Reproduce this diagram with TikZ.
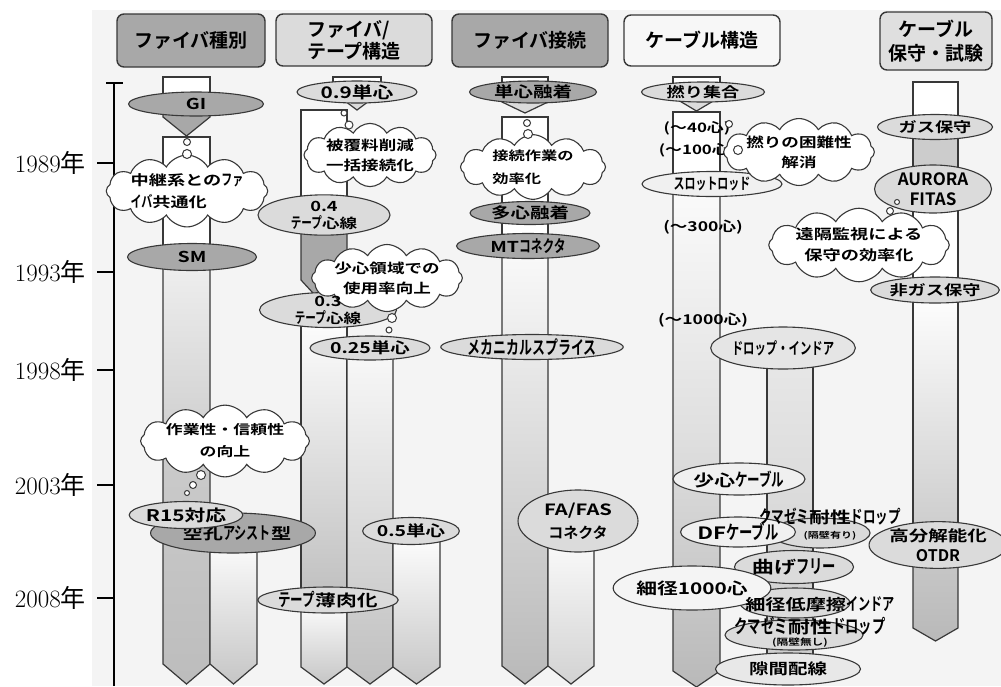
\documentclass[tikz,border=0pt]{standalone}
\usepackage{fontspec}
\usetikzlibrary{shapes.geometric,shapes.symbols}
\newfontfamily\jp{Noto Sans CJK JP}[UprightFont={* Bold},FakeStretch=1.3]
\newfontfamily\jpk{Noto Sans CJK JP}[UprightFont={* Bold},Scale=1.12,FakeStretch=0.7]
\newfontfamily\jph{Noto Sans CJK JP}[UprightFont={* Bold}]
\newfontfamily\jpr{Noto Sans CJK JP}
\newcommand\fsz[1]{\fontsize{#1}{#1}\selectfont}
\newcommand\fsl[2]{\fontsize{#1}{#2}\selectfont}
\newcommand\kn[1]{{\jpk #1}}
\definecolor{bg}{gray}{0.955}
\definecolor{midg}{gray}{0.66}
\definecolor{lig}{gray}{0.86}
\definecolor{vlg}{gray}{0.94}
\definecolor{ln}{gray}{0.22}
\definecolor{h4c}{gray}{0.97}
% pentagon bar: x1 x2 ytop ybot depth style
\newcommand\pent[6]{\path[#6] (#1,#3) -- (#1,#4-#5) -- ({(#1+#2)/2},#4) -- (#2,#4-#5) -- (#2,#3) -- cycle;}
\tikzset{
  hdr/.style={draw=ln, line width=1.4pt, rounded corners=7pt, inner sep=0pt},
  el/.style={ellipse, draw=ln, line width=1.1pt, inner sep=0pt, align=center, text=black},
  elm/.style={el, fill=midg},
  ell/.style={el, fill=lig},
  elv/.style={el, fill=vlg},
  cl/.style={cloud, cloud puffs=12, cloud puff arc=120, cloud ignores aspect, draw=ln, line width=1.1pt, fill=white, inner sep=0pt, text=black},
  bub/.style={circle, draw=ln, line width=1pt, fill=white, inner sep=0pt},
  barl/.style={draw=ln, line width=1.2pt},
  yr/.style={anchor=east, inner sep=0pt},
  tk/.style={line width=2.6pt, draw=black},
  lbl/.style={inner sep=0pt, text=black, align=center}
}
\begin{document}
\begin{tikzpicture}[x=1pt,y=-1pt]
\useasboundingbox (0,0) rectangle (1001,686);
\fill[bg] (92,10) rectangle (1001,686);

% ---------- headers
\node[hdr, fill=midg, minimum width=148pt, minimum height=53pt, font=\jph\fsz{19}] (h1) at (191,40.5) {ファイバ種別};
\node[hdr, fill=lig, minimum width=156pt, minimum height=52pt, font=\jph\fsl{19}{22}, align=left] (h2) at (354,40) {ファイバ/\\テープ構造};
\node[hdr, fill=midg, minimum width=156pt, minimum height=53pt, font=\jph\fsz{19}] (h3) at (530,40.5) {ファイバ接続};
\node[hdr, fill=h4c, minimum width=156pt, minimum height=51pt, font=\jph\fsz{19}] (h4) at (702,40.5) {ケーブル構造};
\node[hdr, fill=gray!25, minimum width=112pt, minimum height=58pt, font=\jph\fsl{19}{24}, align=center] (h5) at (936,41) {ケーブル\\保守・試験};

% ---------- time axis
\draw[line width=2.8pt] (114,686) -- (114,83);
\draw[line width=2.4pt] (106,83) -- (123,83);
\foreach \yy in {163,272,370,485,598} \draw[tk] (97,\yy) -- (114,\yy);
\node[yr] (y1989) at (86,163) {\fsz{25}1989{\jpr 年}};
\node[yr] (y1993) at (86,272) {\fsz{25}1993{\jpr 年}};
\node[yr] (y1998) at (86,370) {\fsz{25}1998{\jpr 年}};
\node[yr] (y2003) at (86,485) {\fsz{25}2003{\jpr 年}};
\node[yr] (y2008) at (86,598) {\fsz{25}2008{\jpr 年}};

% ---------- bars, column 1
\path[barl, fill=white] (163,77) rectangle (210,104);
\pent{163}{210}{104}{136}{19}{barl, fill=midg}
\path[barl, fill=white] (163,137) rectangle (210,257);
\pent{163}{210}{257}{684}{20}{barl, top color=gray!12, bottom color=gray!52, middle color=gray!42}
\pent{210}{257}{533}{684}{20}{barl, top color=white, bottom color=gray!45}
% column 2
\path[barl, fill=white] (333,77) rectangle (381,92);
\pent{333}{381}{92}{110}{18}{barl, fill=lig}
\path[barl, fill=white] (301,110) rectangle (347,215);
\pent{301}{347}{215}{305}{25}{barl, fill=midg}
\path[barl, top color=white, bottom color=gray!50] (301,310) rectangle (347,600);
\pent{301}{347}{600}{684}{17}{barl, top color=white, bottom color=gray!45}
\pent{347}{393}{348}{684}{17}{barl, top color=gray!5, bottom color=gray!50}
\pent{393}{440}{531}{684}{17}{barl, top color=white, bottom color=gray!45}
% column 3
\path[barl, fill=white] (502,77) rectangle (548,92);
\pent{502}{548}{92}{113}{11}{barl, fill=lig}
\path[barl, fill=white] (502,117) rectangle (548,246);
\pent{502}{548}{246}{684}{18}{barl, top color=gray!4, bottom color=gray!55, middle color=gray!30}
\pent{548}{594}{521}{684}{18}{barl, top color=white, bottom color=gray!35}
% column 4
\path[barl, fill=white] (673,77) rectangle (720,92);
\pent{673}{720}{92}{111}{14}{barl, fill=lig}
\path[barl, fill=white] (673,112) rectangle (720,184);
\pent{673}{720}{184}{687}{16}{barl, top color=gray!3, bottom color=gray!55, middle color=gray!25}
\path[barl, top color=gray!18, bottom color=gray!40] (767,348) rectangle (813,670);
% column 5
\path[barl, fill=white] (913,82) rectangle (958,127);
\path[barl, fill=gray!40] (913,127) rectangle (958,189);
\path[barl, fill=white] (913,189) rectangle (958,290);
\path[barl, top color=white, bottom color=gray!42] (913,290) rectangle (958,545);
\pent{913}{958}{545}{641}{13}{barl, top color=gray!42, bottom color=gray!55}

% ---------- ellipses column 1
\node[elm, minimum width=135pt, minimum height=24pt, font=\jp\fsz{15}] (gi) at (196,104) {GI};
\node[elm, minimum width=129pt, minimum height=27pt, font=\jp\fsz{15}] (sm) at (192,257) {SM};
\node[elm, minimum width=127pt, minimum height=40pt, font=\jp\fsz{15.5}] (kuko) at (233,533) {\hspace*{8pt}空孔\kn{アシスト}型};
\node[ell, minimum width=105pt, minimum height=27pt, font=\jp\fsz{16}] (r15) at (186,515) {R15対応};
% column 2
\node[ell, minimum width=120pt, minimum height=22pt, font=\jp\fsz{16}] (s09) at (357,92) {0.9単心};
\node[ell, minimum width=132pt, minimum height=35pt, font=\jp\fsl{14}{17}] (t04) at (324,215) {0.4\\\fsl{13.5}{17}\kn{テープ}心線};
\node[ell, minimum width=137pt, minimum height=35pt] (t03) at (328,310) {};
\node[ell, minimum width=120pt, minimum height=24pt, font=\jp\fsz{15}] (s025) at (370,348) {0.25単心};
\node[ell, minimum width=82pt, minimum height=27pt, font=\jp\fsz{15}] (s05) at (411,531) {0.5単心};
\node[ell, minimum width=120pt, minimum height=26pt, font=\jp\fsz{16}] (tthin) at (328,600) {\kn{テープ}薄肉化};
% column 3
\node[elm, minimum width=127pt, minimum height=22pt, font=\jp\fsz{15}] (tan) at (533,92) {単心融着};
\node[elm, minimum width=120pt, minimum height=23pt, font=\jp\fsz{15}] (tashin) at (530,213) {多心融着};
\node[elm, minimum width=143pt, minimum height=25pt, font=\jp\fsz{15}] (mt) at (528,246) {MT\kn{コネクタ}};
\node[ell, minimum width=150pt, minimum height=25pt, font=\jp\fsz{16.5}] (mech) at (532,347) {\kn{メカニカルスプライス}};
\node[ell, minimum width=120pt, minimum height=62pt, font=\jp\fsl{15.5}{23}] (fa) at (578,521) {FA/FAS\\{\jph\fsz{15}コネクタ}};
% column 4
\node[ell, minimum width=123pt, minimum height=20pt, font=\jp\fsz{14}] (yori) at (703,92) {撚り集合};
\node[elv, minimum width=140pt, minimum height=25pt, font=\jp\fsz{14}] (slot) at (712,184) {\kn{スロットロッド}};
\node[el, fill=gray!20, minimum width=110pt, minimum height=42pt, font=\jp\fsz{14.5}] (drop) at (783,348) {\kn{ドロップ・インドア}};
\node[elv, minimum width=132pt, minimum height=32pt, font=\jp\fsz{16}] (shoshin) at (739,479) {少心\kn{ケーブル}};
\node[ell, minimum width=100pt, minimum height=30pt] (kuma1) at (820,533) {};
\node[elv, minimum width=100pt, minimum height=30pt, font=\jp\fsz{17}] (df) at (738,532) {DF\kn{ケーブル}};
\node[ell, minimum width=112pt, minimum height=33pt, font=\jp\fsz{17}] (mage) at (794,567) {曲げ\kn{フリー}};
\node[ell, minimum width=110pt, minimum height=30pt] (teima) at (795,603) {};
\node[ell, minimum width=138pt, minimum height=30pt] (kuma2) at (794,635) {};
\node[el, fill=gray!9, minimum width=112pt, minimum height=44pt, font=\jp\fsz{16}] (sai) at (692,588) {細径1000心};
\node[el, fill=gray!18, minimum width=145pt, minimum height=32pt, font=\jp\fsz{15}] (sukima) at (788,669) {隙間配線};
\node[lbl, font=\jp\fsz{16}] (kuma1t) at (830,517) {\kn{クマゼミ}耐性\kn{ドロップ}};
\node[lbl, font=\jp\fsz{8.5}] (kuma1s) at (830,536) {(隔壁有り)};
\node[lbl, font=\jp\fsz{15.5}] (teimat) at (820,604) {細径低摩擦\kn{インドア}};
\node[lbl, font=\jp\fsz{17}] (kuma2t) at (810,626) {\kn{クマゼミ}耐性\kn{ドロップ}};
\node[lbl, font=\jp\fsz{9}] (kuma2s) at (800,643) {(隔壁無し)};
\node[lbl, font=\jp\fsz{13}] (n40) at (697,128) {(～40心)};
\node[lbl, font=\jp\fsz{13}] (n100) at (697,150) {(～100心)};
\node[lbl, font=\jp\fsz{13.5}] (n300) at (703,227) {(～300心)};
\node[lbl, font=\jp\fsz{13.5}] (n1000) at (703,320) {(～1000心)};
% column 5
\node[ell, minimum width=115pt, minimum height=25pt, font=\jp\fsz{14}] (gas) at (935,127) {ガス保守};
\node[ell, minimum width=117pt, minimum height=48pt, font=\jph\fsl{17}{20}] (aurora) at (933,189) {AURORA\\FITAS};
\node[ell, minimum width=115pt, minimum height=26pt, font=\jp\fsz{14}] (higas) at (935,290) {非ガス保守};
\node[ell, minimum width=117pt, minimum height=36pt, font=\fsl{15}{20}] (otdr) at (938,545) {{\jp 高分解能化}\\{\jph\fsz{16}OTDR}};

% ---------- clouds
\node[cl, minimum width=135pt, minimum height=55pt, font=\jp\fsl{14}{22}, align=left] (c1) at (187,191) {中継系との\kn{ファ}\\\kn{イバ}共通化};
\node[cl, minimum width=152pt, minimum height=60pt, font=\jp\fsl{13}{22}, align=center] (c2) at (225,441) {作業性・信頼性\\の向上};
\node[cl, minimum width=132pt, minimum height=58pt, font=\jp\fsl{13.5}{20}, align=center] (c3) at (370,155) {被覆料削減\\一括接続化};
\node[cl, minimum width=126pt, minimum height=64pt, font=\jp\fsl{13.5}{20}, align=center] (c4) at (387,278) {少心領域での\\使用率向上};
\node[cl, minimum width=145pt, minimum height=56pt, font=\jp\fsl{12.5}{23}, align=left] (c5) at (533,167) {接続作業の\\効率化};
\node[cl, minimum width=132pt, minimum height=56pt, font=\jp\fsl{13.5}{20}, align=center] (c6) at (799,152) {撚りの困難性\\解消};
\node[cl, minimum width=162pt, minimum height=62pt, font=\jp\fsl{14}{21}, align=center] (c7) at (859,245) {遠隔監視による\\保守の効率化};
% label of the 0.3 ellipse, above the cloud
\node[lbl, font=\jp\fsl{14}{17}] (t03t) at (t03) {0.3\\\fsl{13.5}{17}\kn{テープ}心線};

% ---------- thought bubbles
\node[bub, minimum size=7pt] (b1a) at (187,142) {};
\node[bub, minimum size=9pt] (b1b) at (187,154) {};
\node[bub, minimum size=9pt] (b2a) at (201,475) {};
\node[bub, minimum size=7pt] (b2b) at (193,485) {};
\node[bub, minimum size=5pt] (b2c) at (187,493) {};
\node[bub, minimum size=6pt] (b3a) at (344,113) {};
\node[bub, minimum size=8pt] (b3b) at (349,125) {};
\node[bub, minimum size=9pt] (b4a) at (392,318) {};
\node[bub, minimum size=6pt] (b4b) at (389,330) {};
\node[bub, minimum size=7pt] (b5a) at (527,123) {};
\node[bub, minimum size=9pt] (b5b) at (528,134) {};
\node[bub, minimum size=7pt] (b6a) at (729,124) {};
\node[bub, minimum size=9pt] (b6b) at (738,150) {};
\node[bub, minimum size=5pt] (b7a) at (897,202) {};
\node[bub, minimum size=7pt] (b7b) at (890,211) {};
\end{tikzpicture}
\end{document}
